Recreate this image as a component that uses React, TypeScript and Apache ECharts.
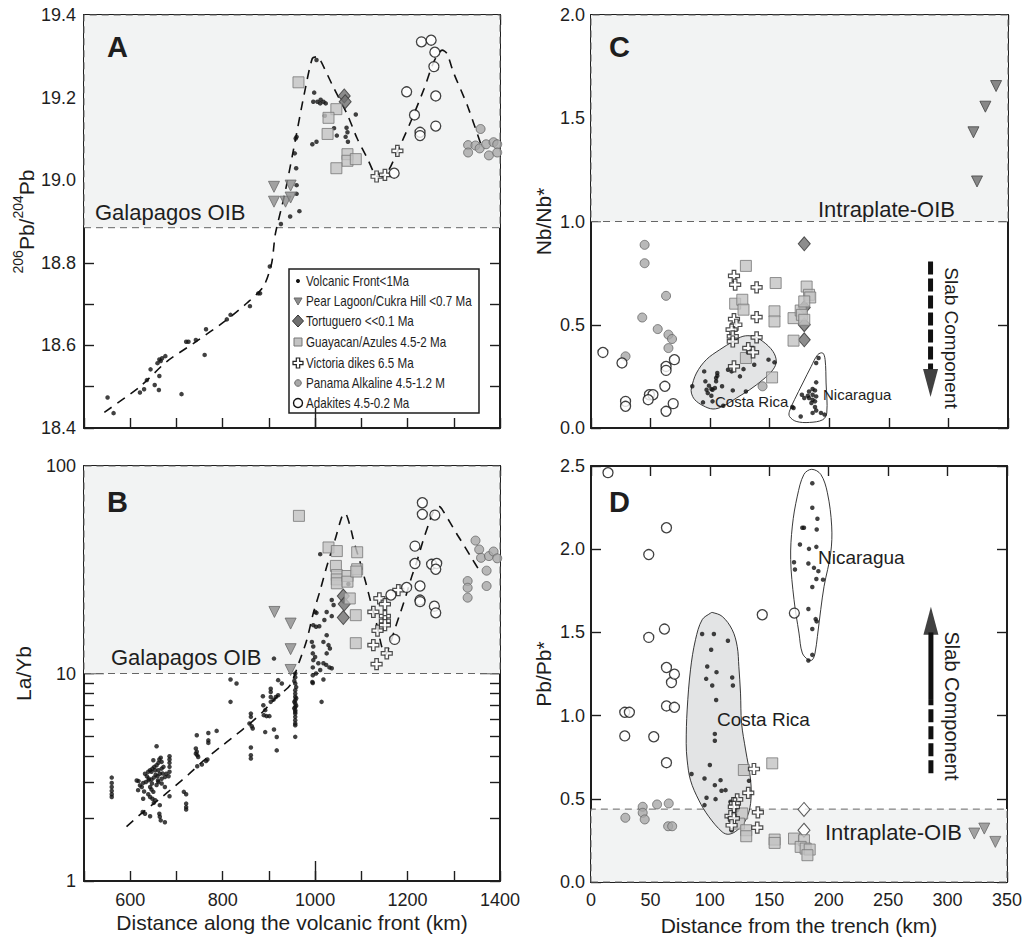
import React, { useEffect, useRef } from "react";
import * as echarts from "echarts";

type P = [number, number];

// ---------- Panel A: 206Pb/204Pb vs distance along volcanic front ----------
const A_VF: P[] = [
  [1003, 19.291], [998, 19.212], [996, 19.19], [1005, 19.19], [1012, 19.195], [1011, 19.186], [1018, 19.19], [1023, 19.186],
  [1021, 19.156], [1041, 19.126], [1047, 19.108], [1068, 19.127], [1070, 19.116], [1066, 19.105], [1071, 19.093], [1088, 19.159],
  [994, 19.087], [1003, 19.093], [958, 19.101], [960, 19.105], [956, 19.065], [959, 19.029], [960, 18.988], [960, 18.967],
  [946, 18.912], [966, 18.925], [926, 18.894],
  [551, 18.474], [564, 18.436], [621, 18.486], [630, 18.494], [636, 18.516], [644, 18.542], [653, 18.504], [662, 18.492],
  [663, 18.526], [659, 18.557], [663, 18.566], [669, 18.569], [676, 18.574], [666, 18.562], [711, 18.482], [721, 18.609],
  [726, 18.609], [742, 18.613], [761, 18.577], [764, 18.639], [809, 18.663], [817, 18.674], [859, 18.695], [877, 18.726],
  [881, 18.726], [902, 18.791],
];
const A_PL: P[] = [[911, 18.984], [947, 18.987], [911, 18.948], [936, 18.948], [947, 18.958]];
const A_TG: P[] = [[1063, 19.204], [1065, 19.19]];
const A_GA: P[] = [[964, 19.237], [1046, 19.172], [1029, 19.151], [1027, 19.112], [1070, 19.063], [1070, 19.047], [1088, 19.051], [1046, 19.029]];
const A_VD: P[] = [[1178, 19.071], [1133, 19.009], [1151, 19.013]];
const A_PA: P[] = [[1358, 19.124], [1331, 19.085], [1347, 19.084], [1356, 19.077], [1370, 19.087], [1386, 19.092], [1394, 19.087], [1331, 19.067], [1376, 19.06], [1394, 19.067]];
const A_AD: P[] = [[1230, 19.335], [1251, 19.339], [1259, 19.31], [1257, 19.275], [1261, 19.204], [1261, 19.131], [1198, 19.214], [1215, 19.158], [1227, 19.116], [1227, 19.108], [1171, 19.017]];
const A_CURVE: P[] = [
  [544, 18.438], [621, 18.5], [679, 18.561], [737, 18.605], [809, 18.662], [852, 18.702], [888, 18.742], [906, 18.799], [914, 18.87],
  [933, 18.96], [951, 19.061], [976, 19.206], [994, 19.295], [1005, 19.299], [1013, 19.287], [1037, 19.231], [1070, 19.158],
  [1091, 19.101], [1113, 19.053], [1135, 19.009], [1153, 19.013], [1178, 19.069], [1207, 19.142], [1236, 19.222], [1257, 19.287],
  [1275, 19.315], [1285, 19.307], [1300, 19.259], [1329, 19.182], [1358, 19.089],
];
const A_OIB = 18.885;

// ---------- Panel B: La/Yb vs distance along volcanic front ----------
const B_VF: P[] = [
  [560, 3.15], [560, 2.97], [560, 2.84], [560, 2.72], [560, 2.62], [560, 2.54],
  [657, 4.46], [650, 3.82], [666, 3.93], [663, 3.85], [668, 3.75], [685, 3.99], [685, 3.85], [685, 3.71], [685, 3.55], [685, 3.36],
  [683, 3.2], [675, 3.17], [661, 3.71], [657, 3.61], [652, 3.55], [648, 3.48], [643, 3.42], [639, 3.36], [632, 3.29], [646, 3.36],
  [654, 3.42], [661, 3.42], [668, 3.48], [672, 3.55], [678, 3.29], [664, 3.29], [659, 3.2], [651, 3.15], [646, 3.08], [640, 3.06],
  [634, 3.0], [628, 2.97], [621, 2.89], [625, 2.84], [617, 2.74], [643, 2.84], [646, 2.76], [650, 2.69], [639, 2.62], [643, 2.54],
  [648, 2.49], [654, 2.45], [661, 3.0], [668, 2.95], [675, 2.84], [668, 3.11], [628, 2.49], [627, 2.15], [632, 2.11], [643, 2.05],
  [664, 2.32], [663, 2.11], [664, 2.04], [666, 1.96], [675, 1.92], [685, 2.56], [716, 2.69], [721, 2.62], [721, 2.36], [721, 2.27],
  [721, 2.21], [651, 2.38], [640, 3.12], [636, 3.2], [660, 3.05], [655, 3.25], [670, 3.3], [657, 2.9], [647, 2.95], [618, 3.03],
  [614, 3.05], [630, 2.7],
  [744, 5.04], [769, 5.17], [787, 5.29], [769, 4.76], [769, 4.63], [742, 4.35], [742, 4.11], [745, 4.04], [747, 3.96], [745, 3.57],
  [755, 3.64], [764, 3.79], [767, 3.85], [744, 4.2],
  [817, 9.35], [830, 8.95], [817, 7.3],
  [861, 6.41], [861, 6.18], [858, 5.74], [863, 5.57], [865, 5.43], [861, 4.4], [861, 4.04], [861, 3.89],
  [887, 7.77], [888, 7.03], [892, 6.66], [889, 6.3], [895, 6.23], [901, 6.23],
  [904, 8.45], [904, 8.15], [904, 7.71], [904, 7.3], [910, 7.48], [915, 7.71], [920, 7.85], [920, 9.29], [928, 8.95],
  [892, 5.22], [911, 5.37], [917, 4.94], [917, 4.26], [911, 11.8],
  [957, 10.0], [957, 9.6], [955, 9.2], [957, 8.95], [957, 8.31], [957, 8.0], [957, 7.72], [957, 7.43], [957, 7.17], [957, 6.9],
  [957, 6.65], [957, 6.53], [957, 6.41], [957, 6.18], [957, 5.95], [957, 5.74], [957, 5.63], [957, 4.95], [959, 7.0], [959, 7.6],
  [959, 8.6], [955, 6.8], [955, 7.3],
  [995, 12.5], [995, 9.8], [995, 9.0], [1014, 7.3],
  [1011, 37.6], [1000, 19.8], [1003, 19.6], [996, 17.1], [1002, 16.8], [1009, 16.9], [1025, 19.8], [1036, 18.9], [1036, 22.6],
  [1040, 21.4], [1020, 18.1], [993, 14.2], [996, 13.5], [996, 11.6], [1018, 14.2], [1025, 15.3], [1029, 13.7], [1032, 13.2],
  [1025, 12.5], [1018, 11.2], [1024, 11.0], [1031, 10.7], [1036, 10.6], [995, 10.7], [1002, 10.0], [994, 9.1], [1018, 9.35],
  [1072, 27], [1000, 12.0], [1007, 11.2], [1011, 10.4],
];
const B_PL: P[] = [[912, 19.8], [947, 17.4], [947, 13.1], [947, 10.4]];
const B_TG: P[] = [[1061, 23.6], [1063, 21.6], [1061, 18.6]];
const B_GA: P[] = [[965, 57.5], [1029, 40.5], [1047, 38.9], [1091, 38.4], [1045, 33], [1047, 29.8], [1047, 28.4], [1047, 27.2], [1070, 29.5], [1070, 27.7], [1091, 31.8], [1089, 31], [1075, 23], [1088, 19.1], [1088, 14.0]];
const B_VD: P[] = [[1139, 23], [1151, 21.6], [1126, 19.8], [1151, 18.9], [1151, 17.9], [1151, 17.1], [1135, 16.1], [1126, 13.7], [1155, 12.5], [1133, 11.1], [1180, 25.2]];
const B_PA: P[] = [[1347, 43.7], [1355, 39.6], [1359, 36.1], [1376, 36.8], [1386, 38.7], [1394, 35.9], [1371, 31.3], [1371, 26.4], [1330, 27.9], [1330, 25.9], [1330, 23.2]];
const B_AD: P[] = [[1232, 66.5], [1232, 58.5], [1259, 58], [1216, 41.1], [1216, 33.9], [1252, 33.6], [1263, 33.9], [1261, 31.8], [1227, 26.4], [1227, 22.6], [1227, 22.2], [1258, 21.1], [1261, 19.6], [1164, 23.9], [1198, 26], [1172, 14.6]];
const B_CURVE: P[] = [
  [592, 1.83], [628, 2.15], [664, 2.49], [697, 2.87], [726, 3.26], [758, 3.79], [794, 4.4], [823, 4.95], [859, 5.74], [888, 6.58],
  [917, 7.71], [946, 8.79], [967, 11.6], [982, 14.5], [996, 19.5], [1011, 25.2], [1025, 32.7], [1043, 44], [1058, 57], [1065, 59.2],
  [1076, 51], [1084, 43.1], [1097, 34.6], [1110, 27.2], [1122, 21.4], [1133, 17.4], [1144, 13.5], [1152, 12.3], [1161, 13.6],
  [1173, 16.5], [1184, 19.5], [1197, 23.9], [1209, 29.3], [1220, 34.6], [1234, 44], [1245, 51.9], [1256, 60.2], [1269, 63.7],
  [1278, 60.2], [1306, 47.3], [1324, 40.8], [1339, 35.9], [1357, 30.9],
];
const B_OIB = 10;

// ---------- Panel C: Nb/Nb* vs distance from trench ----------
const C_VF: P[] = [
  [85, 0.202], [95, 0.274], [96, 0.226], [97, 0.185], [98, 0.169], [99, 0.205], [101, 0.189], [102, 0.185], [104, 0.194], [105, 0.242],
  [106, 0.266], [106, 0.253], [101, 0.156], [94, 0.124], [102, 0.129], [110, 0.202], [111, 0.108], [115, 0.282], [118, 0.274],
  [119, 0.182], [125, 0.25], [128, 0.285], [130, 0.177], [137, 0.306], [149, 0.331], [154, 0.318], [105, 0.226],
  [191, 0.339], [189, 0.315], [189, 0.221], [186, 0.189], [183, 0.177], [188, 0.182], [186, 0.161], [189, 0.153], [183, 0.145],
  [186, 0.137], [188, 0.129], [185, 0.121], [182, 0.156], [177, 0.161], [179, 0.145], [188, 0.102], [189, 0.085], [186, 0.073],
  [193, 0.073], [196, 0.065], [176, 0.056], [170, 0.097], [169, 0.102],
];
const C_PL: P[] = [[340, 1.656], [331, 1.556], [321, 1.432], [324, 1.194]];
const C_TG: P[] = [[179, 0.892], [179, 0.584], [179, 0.5], [179, 0.427]];
const C_GA: P[] = [[130, 0.785], [155, 0.702], [121, 0.602], [127, 0.621], [128, 0.573], [154, 0.565], [154, 0.516], [170, 0.532], [176, 0.569], [177, 0.548], [181, 0.685], [183, 0.645], [184, 0.632], [179, 0.613], [179, 0.524], [170, 0.423], [130, 0.339], [152, 0.245]];
const C_VD: P[] = [[120, 0.737], [121, 0.694], [139, 0.681], [139, 0.537], [120, 0.527], [122, 0.5], [118, 0.476], [119, 0.444], [119, 0.419], [139, 0.439], [132, 0.387], [136, 0.366], [120, 0.298]];
const C_PA: P[] = [[45, 0.887], [45, 0.798], [43, 0.535], [63, 0.64], [56, 0.479], [65, 0.452], [68, 0.431], [65, 0.387], [29, 0.347], [144, 0.202]];
const C_AD: P[] = [[10, 0.366], [26, 0.315], [29, 0.129], [29, 0.105], [49, 0.161], [52, 0.161], [48, 0.137], [63, 0.298], [63, 0.279], [70, 0.331], [62, 0.202], [63, 0.081], [69, 0.118]];
const C_COSTA: P[] = [[84.3, 0.194], [88.5, 0.266], [96.8, 0.331], [108, 0.379], [119.2, 0.419], [127.5, 0.444], [135.9, 0.444], [144.3, 0.419], [152.7, 0.371], [155.5, 0.323], [152.7, 0.282], [144.3, 0.234], [133.1, 0.185], [122, 0.145], [110.8, 0.105], [102.4, 0.092], [94.1, 0.108], [87.1, 0.137], [84.3, 0.169]];
const C_NICA: P[] = [[166.6, 0.081], [170.8, 0.137], [177.8, 0.218], [184.8, 0.298], [190.3, 0.355], [194.5, 0.363], [196.5, 0.331], [197.3, 0.218], [197.9, 0.073], [194.5, 0.04], [183.4, 0.027], [172.2, 0.032], [166.6, 0.056]];
const C_OIB = 1.0;
const C_ARROW_DASH: P[] = [[285, 0.806], [285, 0.285]];
const C_ARROW_HEAD: P[] = [[285, 0.2175]];

// ---------- Panel D: Pb/Pb* vs distance from trench ----------
const D_VF: P[] = [
  [93.5, 1.49], [103.4, 1.49], [115.2, 1.45], [101.1, 1.396], [97.8, 1.295], [105.6, 1.261], [96.9, 1.221], [118.8, 1.229],
  [102, 1.181], [119.4, 1.181], [105.3, 1.094], [104.2, 0.89], [104.2, 0.849], [100, 0.703], [84.6, 0.649], [95.5, 0.622],
  [109, 0.612], [104.2, 0.582], [109.8, 0.548], [113.2, 0.552], [132.9, 0.608], [97.2, 0.506], [104.8, 0.498], [95.5, 0.462],
  [122.2, 0.492], [117.4, 0.482], [123, 0.432], [118.3, 0.311], [116, 0.392],
  [186.2, 2.396], [186.2, 2.249], [190.5, 2.183], [177.8, 2.129], [179.2, 2.129], [189.9, 2.118], [175.8, 2.028], [183.4, 2.002],
  [189.6, 2.014], [170.8, 1.922], [171.6, 1.878], [182.9, 1.914], [187.6, 1.888], [191.3, 1.868], [189.6, 1.821], [195.2, 1.817],
  [186.2, 1.773], [182.9, 1.641], [189, 1.58], [189.9, 1.566], [186.2, 1.52], [186.2, 1.365], [182.9, 1.331],
];
const D_PL: P[] = [[322.5, 0.291], [330.9, 0.321], [340.2, 0.241]];
const D_TG: P[] = [[179.2, 0.436], [179.2, 0.311]];
const D_GA: P[] = [[128.6, 0.673], [152.5, 0.713], [127.2, 0.412], [124.5, 0.351], [130.6, 0.311], [130.6, 0.275], [154.5, 0.255], [154.5, 0.235], [170.8, 0.261], [179.2, 0.251], [176.4, 0.211], [180.6, 0.201], [184, 0.195], [182.1, 0.161]];
const D_VD: P[] = [[137.1, 0.679], [132.3, 0.536], [123, 0.496], [121.1, 0.472], [120.2, 0.452], [117.4, 0.396], [120.2, 0.382], [118.3, 0.341], [140.4, 0.418], [139.9, 0.327]];
const D_PA: P[] = [[28.9, 0.386], [43.5, 0.452], [43.5, 0.416], [45.2, 0.376], [55.6, 0.466], [65.4, 0.472], [64.9, 0.335], [68.3, 0.335]];
const D_AD: P[] = [[14.3, 2.46], [63.5, 2.129], [48.6, 1.968], [48.6, 1.47], [61.8, 1.52], [63.5, 1.289], [67.7, 1.199], [70.2, 1.249], [63.5, 1.058], [70.2, 1.05], [28.4, 1.02], [32.3, 1.02], [28.4, 0.878], [52.8, 0.873], [63.5, 0.717], [144.1, 1.606], [171.1, 1.616]];
const D_COSTA: P[] = [[102, 1.62], [110.4, 1.596], [118.8, 1.516], [123, 1.416], [124.4, 1.295], [125.8, 1.135], [126.7, 0.954], [130.1, 0.793], [134.3, 0.612], [134.3, 0.472], [130.1, 0.371], [123, 0.311], [116, 0.287], [110.4, 0.301], [99.2, 0.392], [90.7, 0.492], [83.7, 0.612], [80.9, 0.733], [80.1, 0.833], [80.9, 1.034], [83.7, 1.275], [87.9, 1.456], [93.5, 1.576], [100.6, 1.616]];
const D_NICA: P[] = [[182.9, 1.335], [177.8, 1.376], [175, 1.496], [170.8, 1.697], [168, 1.938], [169.4, 2.139], [173.6, 2.319], [179.2, 2.45], [185.7, 2.48], [193.3, 2.45], [198.9, 2.339], [202.5, 2.139], [201.7, 1.978], [196.1, 1.777], [193.3, 1.637], [190.5, 1.476], [188.5, 1.376], [186.2, 1.335]];
const D_OIB = 0.438;
const D_ARROW_DASH: P[] = [[286, 0.653], [286, 1.094]];
const D_ARROW_SOLID: P[] = [[286, 1.094], [286, 1.5]];
const D_ARROW_HEAD: P[] = [[286, 1.57]];

// ---------- Tick values ----------
const A_X_TICK = 100;
const A_Y_TICK = 0.1;
const AB_X_LONG = [1000];
const A_Y_LONG = [19.0];
const B_Y_LONG = [10];
const B_LOG_TICKS = [1, 2, 3, 4, 5, 6, 7, 8, 9, 10, 20, 30, 40, 50, 60, 70, 80, 90, 100];
const B_LOG_LABELS = [1, 10, 100];
const CD_X_TICK = 50;
const CD_Y_TICK = 0.5;

const LEGEND_NAMES = [
  "Volcanic Front<1Ma",
  "Pear Lagoon/Cukra Hill <0.7 Ma",
  "Tortuguero <<0.1 Ma",
  "Guayacan/Azules 4.5-2 Ma",
  "Victoria dikes 6.5 Ma",
  "Panama Alkaline 4.5-1.2 M",
  "Adakites 4.5-0.2 Ma",
];

const FONT = "'Liberation Sans', Arial, Helvetica, sans-serif";
const INK = "#1e1e1e";
const SHADE = "#f2f3f3";
const CROSS = "path://M3.4,0H6.6V3.4H10V6.6H6.6V10H3.4V6.6H0V3.4H3.4Z";

const STY: Record<string, any> = {
  vf: { symbol: "circle", symbolSize: 4.5, itemStyle: { color: "#111" } },
  pl: { symbol: "triangle", symbolRotate: 180, symbolSize: 11, itemStyle: { color: "#8c8c8c", borderColor: "#6a6a6a", borderWidth: 1 } },
  plDark: { symbol: "triangle", symbolRotate: 180, symbolSize: 11, itemStyle: { color: "#6c6c6c", borderColor: "#444", borderWidth: 1 } },
  tg: { symbol: "diamond", symbolSize: [12, 14], itemStyle: { color: "#707070", borderColor: "#333", borderWidth: 1 } },
  tgOpen: { symbol: "diamond", symbolSize: [12, 14], itemStyle: { color: "#fff", borderColor: "#333", borderWidth: 1 } },
  ga: { symbol: "rect", symbolSize: 11, itemStyle: { color: "#c3c3c3", borderColor: "#777", borderWidth: 1 } },
  vd: { symbol: CROSS, symbolSize: 11, itemStyle: { color: "#fff", borderColor: "#222", borderWidth: 1.2 } },
  pa: { symbol: "circle", symbolSize: 9, itemStyle: { color: "#a8a8a8", borderColor: "#666", borderWidth: 1 } },
  ad: { symbol: "circle", symbolSize: 10, itemStyle: { color: "#fff", borderColor: "#111", borderWidth: 1.3 } },
};

function scatter(name: string, data: P[], panel: number, sty: any) {
  return { type: "scatter", name, data, xAxisIndex: panel * 2, yAxisIndex: panel * 2, z: 4, silent: true, ...sty };
}

function shade(panel: number, from: P, to: P) {
  return {
    type: "line", data: [], xAxisIndex: panel * 2, yAxisIndex: panel * 2, z: 0, silent: true,
    markArea: {
      silent: true,
      itemStyle: { color: SHADE, borderColor: "#666", borderWidth: 1, borderType: [7, 5] },
      data: [[{ coord: from }, { coord: to }]],
    },
  };
}

function curve(data: P[], panel: number) {
  return {
    type: "line", data, xAxisIndex: panel * 2, yAxisIndex: panel * 2, z: 3, silent: true,
    showSymbol: false, symbol: "none", smooth: 0.25,
    lineStyle: { color: "#111", width: 1.6, type: [9, 7] },
  };
}

function poly(points: P[], panel: number, fill: string) {
  return {
    type: "custom", data: points, xAxisIndex: panel * 2, yAxisIndex: panel * 2, z: 1, silent: true,
    renderItem: (params: any, api: any) => {
      if (params.dataIndex !== 0) return null;
      const pts = points.map((p) => api.coord(p));
      return { type: "polygon", shape: { points: pts, smooth: 0.35 }, style: { fill, stroke: "#222", lineWidth: 0.9 } };
    },
  };
}

function shaft(data: P[], panel: number, dashed: boolean) {
  return {
    type: "line", data, xAxisIndex: panel * 2, yAxisIndex: panel * 2, z: 5, silent: true,
    showSymbol: false, symbol: "none",
    lineStyle: { color: "#111", width: 5, type: dashed ? [13, 4] : "solid", cap: "butt" },
  };
}

function head(data: P[], panel: number, down: boolean) {
  return {
    type: "scatter", data, xAxisIndex: panel * 2, yAxisIndex: panel * 2, z: 5, silent: true,
    symbol: "triangle", symbolRotate: down ? 180 : 0, symbolSize: [15, 28], itemStyle: { color: "#111" },
  };
}

const axLine = { show: true, onZero: false, lineStyle: { color: INK, width: 2 } };
const axTick = { show: true, inside: true, length: 10, lineStyle: { color: INK, width: 1.4 } };
const lbl = (extra: any) => ({ color: INK, fontSize: 18, fontFamily: FONT, ...extra });
const nameStyle = { color: INK, fontSize: 21, fontFamily: FONT };

function valAxis(grid: number, pos: string, min: number, max: number, interval: number, label: any, extra: any = {}) {
  return {
    type: "value", gridIndex: grid, position: pos, min, max, interval,
    axisLine: axLine, axisTick: axTick, splitLine: { show: false },
    axisLabel: label ? lbl(label) : { show: false },
    ...extra,
  };
}

function logAxis(grid: number, pos: string, label: any, extra: any = {}) {
  return {
    type: "log", logBase: 10, gridIndex: grid, position: pos, min: 1, max: 100,
    axisLine: axLine, axisTick: { ...axTick, customValues: B_LOG_TICKS }, splitLine: { show: false },
    axisLabel: label ? lbl({ ...label, customValues: B_LOG_LABELS }) : { show: false },
    ...extra,
  };
}

// extra axes carrying only the longer ticks
function longTickAxis(kind: "value" | "log", grid: number, pos: string, min: number, max: number, values: number[]) {
  return {
    type: kind, gridIndex: grid, position: pos, min, max,
    ...(kind === "log" ? { logBase: 10 } : {}),
    axisLine: { show: false },
    axisTick: { show: true, inside: true, length: 20, customValues: values, lineStyle: { color: INK, width: 1.4 } },
    axisLabel: { show: false }, splitLine: { show: false },
  };
}

function txt(text: string, x: number, y: number, size: number, o: any = {}) {
  return {
    type: "text", x, y, z: 100, silent: true, rotation: o.rot || 0,
    style: {
      text, fill: INK,
      font: `${o.weight || "normal"} ${size}px ${FONT}`,
      align: o.align || "left", verticalAlign: "middle",
      textAlign: o.align || "left", textVerticalAlign: "middle",
    },
  };
}

function legendGraphic() {
  const x0 = 289, y0 = 269, w = 190, h = 144;
  const r = [12, 32, 52, 73, 94, 114, 134];
  const ix = 9, tx = 17;
  const children: any[] = [
    { type: "rect", shape: { x: 0, y: 0, width: w, height: h }, style: { fill: "#fff", stroke: INK, lineWidth: 1.5 } },
  ];
  children.push({ type: "circle", shape: { cx: ix, cy: r[0], r: 2 }, style: { fill: "#111" } });
  children.push({ type: "polygon", shape: { points: [[ix - 4, r[1] - 3], [ix + 4, r[1] - 3], [ix, r[1] + 4]] }, style: { fill: "#8c8c8c", stroke: "#6a6a6a", lineWidth: 1 } });
  children.push({ type: "polygon", shape: { points: [[ix, r[2] - 6], [ix + 5.5, r[2]], [ix, r[2] + 6], [ix - 5.5, r[2]]] }, style: { fill: "#707070", stroke: "#333", lineWidth: 1 } });
  children.push({ type: "rect", shape: { x: ix - 4, y: r[3] - 4, width: 8, height: 8 }, style: { fill: "#c3c3c3", stroke: "#777", lineWidth: 1 } });
  const c = r[4], a = 1.7, b = 5;
  children.push({
    type: "polygon",
    shape: { points: [[ix - a, c - b], [ix + a, c - b], [ix + a, c - a], [ix + b, c - a], [ix + b, c + a], [ix + a, c + a], [ix + a, c + b], [ix - a, c + b], [ix - a, c + a], [ix - b, c + a], [ix - b, c - a], [ix - a, c - a]] },
    style: { fill: "#fff", stroke: "#222", lineWidth: 1.2 },
  });
  children.push({ type: "circle", shape: { cx: ix, cy: r[5], r: 3.3 }, style: { fill: "#a8a8a8", stroke: "#666", lineWidth: 1 } });
  children.push({ type: "circle", shape: { cx: ix, cy: r[6], r: 4.5 }, style: { fill: "#fff", stroke: "#111", lineWidth: 1.4 } });
  LEGEND_NAMES.forEach((n, i) => {
    children.push({
      type: "text", x: tx, y: r[i], scaleX: 0.83, scaleY: 1,
      style: { text: n, fill: INK, font: `normal 14px ${FONT}`, align: "left", verticalAlign: "middle", textAlign: "left", textVerticalAlign: "middle" },
    });
  });
  return { type: "group", x: x0, y: y0, z: 90, silent: true, children };
}

function buildOption() {
  const grid = [
    { left: 84, top: 15, width: 416, height: 413 },
    { left: 84, top: 466, width: 416, height: 415 },
    { left: 591, top: 15, width: 417, height: 413 },
    { left: 591, top: 466, width: 417, height: 416 },
  ];

  const xAxis = [
    valAxis(0, "bottom", 500, 1400, A_X_TICK, null),
    valAxis(0, "top", 500, 1400, A_X_TICK, null),
    valAxis(1, "bottom", 500, 1400, A_X_TICK, { margin: 10, formatter: (v: number) => (v % 200 === 0 ? String(v) : "") }, {
      name: "Distance along the volcanic front (km)", nameLocation: "middle", nameGap: 31, nameTextStyle: nameStyle,
    }),
    valAxis(1, "top", 500, 1400, A_X_TICK, null),
    valAxis(2, "bottom", 0, 350, CD_X_TICK, null),
    valAxis(2, "top", 0, 350, CD_X_TICK, null),
    valAxis(3, "bottom", 0, 350, CD_X_TICK, { margin: 9 }, {
      name: "Distance from the trench (km)", nameLocation: "middle", nameGap: 33, nameTextStyle: nameStyle,
    }),
    valAxis(3, "top", 0, 350, CD_X_TICK, null),
    longTickAxis("value", 0, "bottom", 500, 1400, AB_X_LONG),
    longTickAxis("value", 0, "top", 500, 1400, AB_X_LONG),
    longTickAxis("value", 1, "bottom", 500, 1400, AB_X_LONG),
    longTickAxis("value", 1, "top", 500, 1400, AB_X_LONG),
  ];

  const yAxis = [
    valAxis(0, "left", 18.4, 19.4, A_Y_TICK, {
      margin: 8,
      formatter: (v: number) => (Math.round(v * 10) % 2 === 0 ? v.toFixed(1) : ""),
    }, {
      name: "{s|206}{n|Pb/}{s|204}{n|Pb}", nameLocation: "middle", nameGap: 40, nameRotate: 90,
      nameTextStyle: {
        ...nameStyle,
        rich: {
          s: { fontSize: 14, fontFamily: FONT, color: INK, lineHeight: 26, verticalAlign: "top" },
          n: { fontSize: 21, fontFamily: FONT, color: INK, lineHeight: 26, verticalAlign: "bottom" },
        },
      },
    }),
    valAxis(0, "right", 18.4, 19.4, A_Y_TICK, null),
    logAxis(1, "left", { margin: 8 }, { name: "La/Yb", nameLocation: "middle", nameGap: 50, nameRotate: 90, nameTextStyle: nameStyle }),
    logAxis(1, "right", null),
    valAxis(2, "left", 0, 2, CD_Y_TICK, { margin: 6, formatter: (v: number) => v.toFixed(1) }, {
      name: "Nb/Nb*", nameLocation: "middle", nameGap: 37, nameRotate: 90, nameTextStyle: nameStyle,
    }),
    valAxis(2, "right", 0, 2, CD_Y_TICK, null),
    valAxis(3, "left", 0, 2.5, CD_Y_TICK, { margin: 6, formatter: (v: number) => v.toFixed(1) }, {
      name: "Pb/Pb*", nameLocation: "middle", nameGap: 37, nameRotate: 90, nameTextStyle: nameStyle,
    }),
    valAxis(3, "right", 0, 2.5, CD_Y_TICK, null),
    longTickAxis("value", 0, "left", 18.4, 19.4, A_Y_LONG),
    longTickAxis("value", 0, "right", 18.4, 19.4, A_Y_LONG),
    longTickAxis("log", 1, "left", 1, 100, B_Y_LONG),
    longTickAxis("log", 1, "right", 1, 100, B_Y_LONG),
  ];

  const [VF, PL, TG, GA, VD, PA, AD] = LEGEND_NAMES;

  const series: any[] = [
    shade(0, [500, A_OIB], [1400, 19.4]),
    shade(1, [500, B_OIB], [1400, 100]),
    shade(2, [0, C_OIB], [350, 2.0]),
    shade(3, [0, 0], [350, D_OIB]),
    poly(C_COSTA, 2, "#e3e4e5"),
    poly(C_NICA, 2, "#ffffff"),
    poly(D_COSTA, 3, "#e3e4e5"),
    poly(D_NICA, 3, "#ffffff"),
    curve(A_CURVE, 0),
    curve(B_CURVE, 1),
    scatter(VF, A_VF, 0, STY.vf), scatter(PL, A_PL, 0, STY.pl), scatter(TG, A_TG, 0, STY.tg), scatter(GA, A_GA, 0, STY.ga),
    scatter(VD, A_VD, 0, STY.vd), scatter(PA, A_PA, 0, STY.pa), scatter(AD, A_AD, 0, STY.ad),
    scatter(VF, B_VF, 1, STY.vf), scatter(PL, B_PL, 1, STY.pl), scatter(TG, B_TG, 1, STY.tg), scatter(GA, B_GA, 1, STY.ga),
    scatter(VD, B_VD, 1, STY.vd), scatter(PA, B_PA, 1, STY.pa), scatter(AD, B_AD, 1, STY.ad),
    scatter(VF, C_VF, 2, STY.vf), scatter(PL, C_PL, 2, STY.plDark), scatter(TG, C_TG, 2, STY.tg), scatter(GA, C_GA, 2, STY.ga),
    scatter(VD, C_VD, 2, STY.vd), scatter(PA, C_PA, 2, STY.pa), scatter(AD, C_AD, 2, STY.ad),
    scatter(VF, D_VF, 3, STY.vf), scatter(PL, D_PL, 3, STY.pl), scatter(TG, D_TG, 3, STY.tgOpen), scatter(GA, D_GA, 3, STY.ga),
    scatter(VD, D_VD, 3, STY.vd), scatter(PA, D_PA, 3, STY.pa), scatter(AD, D_AD, 3, STY.ad),
    shaft(C_ARROW_DASH, 2, true), head(C_ARROW_HEAD, 2, true),
    shaft(D_ARROW_DASH, 3, true), shaft(D_ARROW_SOLID, 3, false), head(D_ARROW_HEAD, 3, false),
  ];

  const graphic = [
    txt("A", 107, 47, 29, { weight: "bold" }),
    txt("B", 107, 502, 29, { weight: "bold" }),
    txt("C", 609, 47, 29, { weight: "bold" }),
    txt("D", 609, 502, 29, { weight: "bold" }),
    txt("Galapagos OIB", 95, 212, 22),
    txt("Galapagos OIB", 111, 657, 22),
    txt("Intraplate-OIB", 818, 209, 22),
    txt("Intraplate-OIB", 825, 832, 22),
    txt("Costa Rica", 715, 401, 15),
    txt("Nicaragua", 823, 394, 15),
    txt("Costa Rica", 717, 719, 19),
    txt("Nicaragua", 818, 557, 19),
    txt("Slab Component", 951, 338, 19, { align: "center", rot: -Math.PI / 2 }),
    txt("Slab Component", 952, 706, 20, { align: "center", rot: -Math.PI / 2 }),
    legendGraphic(),
  ];

  return { animation: false, backgroundColor: "#fff", grid, xAxis, yAxis, series, graphic };
}

export default function App() {
  const ref = useRef<HTMLDivElement>(null);
  useEffect(() => {
    const chart = echarts.init(ref.current!, null, { renderer: "svg" });
    chart.setOption(buildOption() as any);
    return () => chart.dispose();
  }, []);
  return <div ref={ref} style={{ position: "absolute", left: 0, top: 0, width: 1025, height: 939, background: "#fff" }} />;
}
